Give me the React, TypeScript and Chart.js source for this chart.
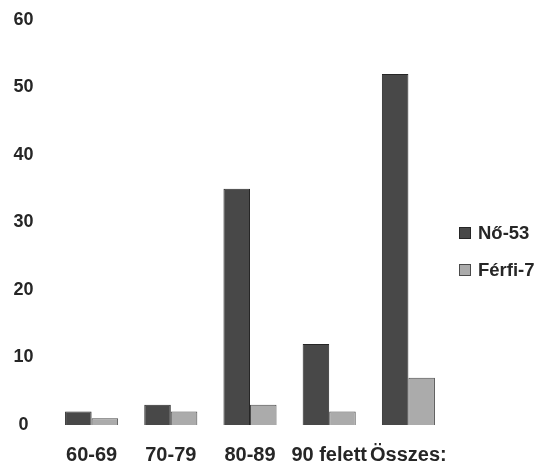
import React, { useEffect, useRef } from "react";
import { Chart, registerables } from "chart.js";

Chart.register(...registerables);

const categories = ["60-69", "70-79", "80-89", "90 felett", "Összes:"];
const femaleLabel = "Nő-53";
const maleLabel = "Férfi-7";
const femaleValues = [2, 3, 35, 12, 52];
const maleValues = [1, 2, 3, 2, 7];
const yTicks = [0, 10, 20, 30, 40, 50, 60];

const FONT = "'Liberation Sans', Arial, Helvetica, sans-serif";
const TEXT = "#262626";
const DARK_FILL = "#484848";
const DARK_BORDER = "#262626";
const LIGHT_FILL = "#ababab";
const LIGHT_BORDER = "#4a4a4a";

export default function App() {
  const ref = useRef<HTMLCanvasElement | null>(null);

  useEffect(() => {
    if (!ref.current) return;
    const chart = new Chart(ref.current, {
      type: "bar",
      data: {
        labels: categories,
        datasets: [
          {
            label: femaleLabel,
            data: femaleValues,
            backgroundColor: DARK_FILL,
            borderColor: DARK_BORDER,
            borderWidth: 1,
            categoryPercentage: 0.67,
            barPercentage: 1.0,
          },
          {
            label: maleLabel,
            data: maleValues,
            backgroundColor: LIGHT_FILL,
            borderColor: LIGHT_BORDER,
            borderWidth: 1,
            categoryPercentage: 0.67,
            barPercentage: 1.0,
          },
        ],
      },
      options: {
        responsive: false,
        animation: false,
        layout: { padding: { top: 20, right: 91, left: 0, bottom: 0 } },
        plugins: {
          legend: { display: false },
          tooltip: { enabled: false },
        },
        scales: {
          x: {
            grid: { display: false, drawTicks: false },
            border: { display: false },
            ticks: {
              autoSkip: false,
              maxRotation: 0,
              minRotation: 0,
              padding: 18,
              color: TEXT,
              font: { family: FONT, size: 20, weight: "bold" },
            },
            afterFit: (scale: any) => {
              scale.height = 49;
              scale.paddingLeft = 0;
              scale.paddingRight = 0;
            },
          },
          y: {
            min: 0,
            max: 60,
            grid: { display: false, drawTicks: false },
            border: { display: false },
            afterBuildTicks: (scale: any) => {
              scale.ticks = yTicks.map((v) => ({ value: v }));
            },
            ticks: {
              stepSize: 10,
              crossAlign: "center",
              padding: 18.5,
              color: TEXT,
              font: { family: FONT, size: 18, weight: "bold" },
            },
            afterFit: (scale: any) => {
              scale.width = 52;
              scale.paddingTop = 0;
              scale.paddingBottom = 0;
            },
          },
        },
      },
    });
    return () => chart.destroy();
  }, []);

  const legendItems = [
    { label: femaleLabel, fill: DARK_FILL, border: DARK_BORDER },
    { label: maleLabel, fill: LIGHT_FILL, border: LIGHT_BORDER },
  ];

  return (
    <div
      style={{
        position: "fixed",
        left: 0,
        top: 0,
        width: 539,
        height: 474,
        overflow: "hidden",
        background: "#fff",
      }}
    >
      <canvas ref={ref} width={539} height={474} style={{ width: 539, height: 474 }} />
      <div style={{ position: "absolute", left: 459, top: 222, fontFamily: FONT }}>
        {legendItems.map((it) => (
          <div
            key={it.label}
            style={{
              display: "flex",
              alignItems: "center",
              height: 22,
              marginBottom: 15,
              whiteSpace: "nowrap",
              color: TEXT,
              fontWeight: "bold",
              fontSize: 18.5,
            }}
          >
            <span
              style={{
                display: "inline-block",
                width: 10,
                height: 10,
                background: it.fill,
                border: `1px solid ${it.border}`,
                marginRight: 7,
              }}
            />
            <span>{it.label}</span>
          </div>
        ))}
      </div>
    </div>
  );
}
